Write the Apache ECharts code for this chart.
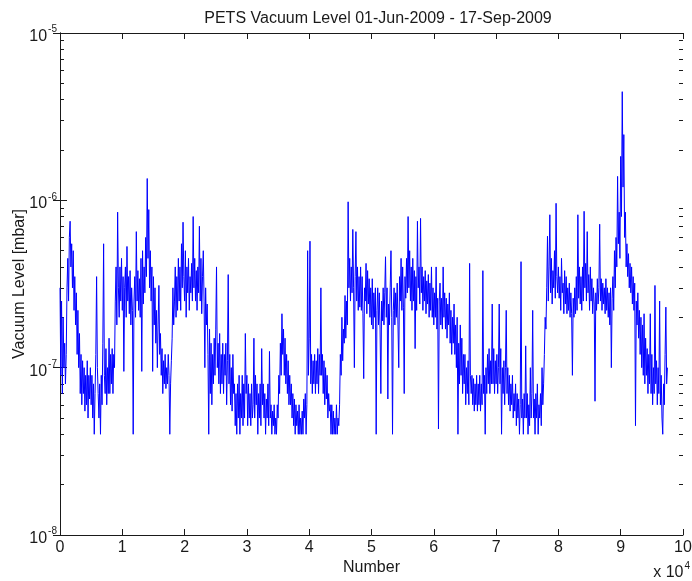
<!DOCTYPE html>
<html>
<head>
<meta charset="utf-8">
<script src="https://cdn.jsdelivr.net/npm/echarts@6/dist/echarts.min.js"></script>
<style>
  html, body { margin: 0; padding: 0; background: #fff; }
  #chart { width: 692px; height: 581px; }
</style>
</head>
<body>
<div id="chart"></div>
<script>
// samples every 125 counts, values in units of 1e-8 mbar
const sampleStep = 125;
const seg0 = [30, 9, 25, 7, 20, 10, 14, 8, 12, 30, 45, 25, 60, 75, 40, 55,
  30, 50, 22, 35, 18, 28, 12, 22, 10, 16, 7, 12, 6, 11, 7, 10,
  5.5, 9, 6, 11, 5, 9, 6.5, 10, 6, 9, 5, 8, 4, 7, 12, 35,
  10, 7, 5, 8, 4, 9, 6, 14, 55, 9, 7, 13, 6, 10, 7, 15,
  7, 12, 8, 13, 7, 12, 10, 25, 40, 18, 85, 30, 20, 40, 25, 45];
const seg1 = [22, 35, 9.5, 30, 40, 20, 53, 25, 35, 21, 38, 18, 30, 22, 4, 25,
  35, 20, 65, 25, 38, 22, 34, 20, 45, 9.5, 50, 24, 40, 28, 60, 35,
  135, 45, 88, 30, 50, 25, 40, 9.5, 35, 18, 30, 14, 22, 10, 18, 31,
  12, 16, 9, 13, 7, 11, 8, 12, 7.5, 10, 8, 12, 9, 4, 8, 11,
  15, 30, 18, 25, 40, 20, 35, 22, 45, 25, 40, 22, 55, 30, 74, 35];
const seg2 = [25, 50, 20, 40, 28, 45, 22, 35, 28, 42, 25, 80, 30, 45, 25, 38,
  22, 40, 28, 70, 25, 45, 21, 35, 50, 25, 10, 30, 18, 24, 12, 4,
  17, 7, 14, 6, 12, 8, 15, 9, 17, 40, 10, 14, 8, 16, 7, 12,
  8, 14, 7, 12, 9, 14, 6, 11, 36, 8, 12, 6, 10, 5.5, 12, 7,
  8, 4.5, 7, 4, 8, 5, 9, 4, 7, 5, 9, 4.5, 8, 5, 16, 7];
const seg3 = [9, 4.5, 8, 5, 7, 4.5, 8, 5, 6, 15, 5, 9, 6, 8, 4, 7,
  5, 8, 4.5, 13, 6, 8, 5, 7, 4, 6.5, 5, 8, 4.5, 12.5, 5, 6,
  4, 5.5, 4.5, 6, 4, 5, 4, 6, 5, 9, 7, 14, 9, 21, 12, 17,
  9, 15, 8, 12, 7, 11, 6, 9, 6, 8, 5, 7, 4.5, 6.5, 4, 6,
  4.5, 5.5, 4, 6, 4, 5, 4, 5.5, 4, 6.5, 5, 7, 4, 6, 50, 9];
const seg4 = [15, 57, 8, 12, 7, 11, 8, 12, 7, 11, 8, 13, 7, 12, 9, 30,
  9, 12, 7, 11, 6, 10, 6.5, 9, 5, 7, 5.5, 6, 4, 6, 4, 5.5,
  4, 5, 4, 6, 4, 5, 4.5, 6, 12, 9, 20, 11, 17, 14, 27, 15,
  25, 18, 98, 30, 45, 25, 40, 28, 67, 30, 10, 35, 65, 25, 40, 22,
  35, 23, 40, 22, 35, 21, 8.6, 30, 25, 42, 21, 38, 24, 34, 20, 30];
const seg5 = [18, 34, 17, 28, 20, 30, 4, 22, 30, 18, 28, 17, 7, 25, 19, 30,
  18, 28, 46, 20, 30, 6.5, 24, 18, 30, 50, 20, 4, 22, 30, 18, 28,
  20, 32, 18, 10, 35, 25, 45, 22, 40, 23, 7, 35, 26, 45, 28, 80,
  30, 50, 25, 40, 22, 45, 25, 38, 13, 35, 22, 75, 30, 40, 24, 78,
  28, 40, 22, 35, 25, 38, 21, 33, 24, 36, 20, 32, 22, 40, 20, 30];
const seg6 = [18, 28, 20, 40, 17, 26, 4.3, 25, 32, 18, 26, 17, 40, 20, 28, 17,
  26, 15, 24, 18, 28, 14, 22, 12, 20, 14, 24, 12, 18, 10, 20, 4,
  14, 8, 18, 9, 15, 7, 12, 8, 12, 6, 10, 7, 11, 6, 42, 9,
  7, 9, 6, 8.6, 5.5, 8, 6, 9, 5.5, 8, 6, 9, 5.5, 8, 6, 38,
  7, 9, 4, 10, 7, 12, 8, 13, 7, 11, 8, 24, 8, 13, 7, 11];
const seg7 = [8, 12, 7, 10, 24, 8, 13, 4, 10, 7, 11, 6, 10, 22, 7, 10,
  6, 9, 5.5, 8, 6, 9, 5, 7, 5.5, 8, 4.5, 7, 5, 6.5, 4, 6,
  43, 5, 6.5, 4, 7, 5, 13.5, 5, 7, 4, 6, 4.5, 10, 5, 7, 22,
  5, 6.5, 4, 7, 5, 8, 4, 6, 5, 7, 4.5, 10, 6, 8, 12, 20,
  17, 30, 61, 25, 40, 82, 28, 45, 24, 38, 30, 50, 26, 96, 35, 28];
const seg8 = [40, 26, 35, 22, 45, 28, 32, 21, 38, 24, 35, 21, 30, 22, 32, 20,
  28, 21, 9, 26, 20, 30, 21, 35, 22, 82, 26, 40, 24, 35, 22, 40,
  25, 86, 30, 42, 25, 65, 28, 36, 22, 40, 25, 34, 21, 30, 24, 6.3,
  28, 22, 34, 24, 30, 72, 25, 34, 22, 32, 24, 30, 21, 34, 22, 30,
  20, 28, 18, 30, 10, 26, 35, 22, 50, 30, 60, 40, 139, 55, 85, 45];
const seg9 = [183, 80, 446, 120, 247, 60, 85, 40, 55, 35, 48, 30, 42, 28, 40, 24,
  35, 22, 32, 4.5, 25, 18, 28, 15, 22, 12, 20, 10, 18, 9, 21, 8,
  15, 9, 13, 7, 12, 8, 21, 7, 12, 6, 10, 7, 31, 8, 11, 6,
  10, 7, 25, 6, 9, 5, 4, 8, 6, 12, 23, 8, 10];

const xTicks = [0, 1, 2, 3, 4, 5, 6, 7, 8, 9, 10];      // x 10^4
const yDecades = [-8, -7, -6, -5];
const minorMult = [2, 3, 4, 5, 6, 7, 8, 9];

const levels = [].concat(seg0, seg1, seg2, seg3, seg4, seg5, seg6, seg7, seg8, seg9);
const points = levels.map((v, i) => [i * sampleStep, v * 1e-8]);

// minor tick positions in log space (for the helper axes)
const minorLog = [];
yDecades.slice(0, -1).forEach(e => minorMult.forEach(m => minorLog.push(e + Math.log10(m))));

const FONT = '"Liberation Sans", Arial, Helvetica, sans-serif';
const INK = '#1a1a1a';

const chart = echarts.init(document.getElementById('chart'), null, { renderer: 'canvas' });

const xBase = {
  type: 'value',
  min: xTicks[0] * 1e4,
  max: xTicks[xTicks.length - 1] * 1e4,
  interval: 1e4,
  splitLine: { show: false },
  axisLine: { lineStyle: { color: INK, width: 1 } },
  axisTick: { inside: true, length: 6, lineStyle: { color: INK } }
};

const yMinorBase = {
  type: 'value',
  min: yDecades[0],
  max: yDecades[yDecades.length - 1],
  splitLine: { show: false },
  axisLine: { show: false },
  axisLabel: { show: false },
  axisTick: { inside: true, length: 4, customValues: minorLog, lineStyle: { color: INK } }
};

const supRich = {
  b: { fontFamily: FONT, fontSize: 16, color: INK, padding: [7, 0, 0, 0] },
  s: { fontFamily: FONT, fontSize: 10, color: INK, padding: [0, 0, 7, 1] }
};

chart.setOption({
  animation: false,
  backgroundColor: '#fff',
  title: {
    text: 'PETS Vacuum Level 01-Jun-2009 - 17-Sep-2009',
    left: 373,
    top: 6,
    textAlign: 'center',
    textStyle: { fontFamily: FONT, fontSize: 16, fontWeight: 'normal', color: INK }
  },
  grid: { left: 60, right: 9, top: 33, bottom: 46, outerBoundsMode: 'none', containLabel: false },
  xAxis: [
    Object.assign({}, xBase, {
      position: 'bottom',
      name: 'Number',
      nameLocation: 'middle',
      nameGap: 25,
      nameMoveOverlap: false,
      nameTextStyle: { fontFamily: FONT, fontSize: 16, color: INK },
      axisLabel: {
        margin: 5,
        fontFamily: FONT, fontSize: 16, color: INK,
        formatter: v => String(v / 1e4)
      }
    }),
    Object.assign({}, xBase, { position: 'top', axisLabel: { show: false } })
  ],
  yAxis: [
    {
      type: 'log',
      logBase: 10,
      min: Math.pow(10, yDecades[0]),
      max: Math.pow(10, yDecades[yDecades.length - 1]),
      position: 'left',
      splitLine: { show: false },
      axisLine: { lineStyle: { color: INK } },
      axisTick: { inside: true, length: 7, lineStyle: { color: INK } },
      name: 'Vacuum Level [mbar]',
      nameLocation: 'middle',
      nameGap: 32,
      nameMoveOverlap: false,
      nameTextStyle: { fontFamily: FONT, fontSize: 16, color: INK },
      axisLabel: {
        margin: 3,
        formatter: v => '{b|10}{s|' + Math.round(Math.log10(v)) + '}',
        rich: supRich
      }
    },
    {
      type: 'log',
      logBase: 10,
      min: Math.pow(10, yDecades[0]),
      max: Math.pow(10, yDecades[yDecades.length - 1]),
      position: 'right',
      splitLine: { show: false },
      axisLine: { lineStyle: { color: INK } },
      axisTick: { inside: true, length: 7, lineStyle: { color: INK } },
      axisLabel: { show: false }
    },
    Object.assign({}, yMinorBase, { position: 'left' }),
    Object.assign({}, yMinorBase, { position: 'right' })
  ],
  graphic: [{
    type: 'text',
    right: 2,
    top: 561,
    style: {
      text: '{b|x 10}{s|4}',
      rich: {
        b: { fontFamily: FONT, fontSize: 16, fill: INK, padding: [7, 0, 0, 0] },
        s: { fontFamily: FONT, fontSize: 10, fill: INK, padding: [0, 0, 7, 1] }
      }
    }
  }],
  series: [{
    type: 'line',
    xAxisIndex: 0,
    yAxisIndex: 0,
    data: points,
    showSymbol: false,
    symbol: 'none',
    sampling: null,
    lineStyle: { color: '#0000ff', width: 1 },
    silent: true
  }]
});
</script>
</body>
</html>
